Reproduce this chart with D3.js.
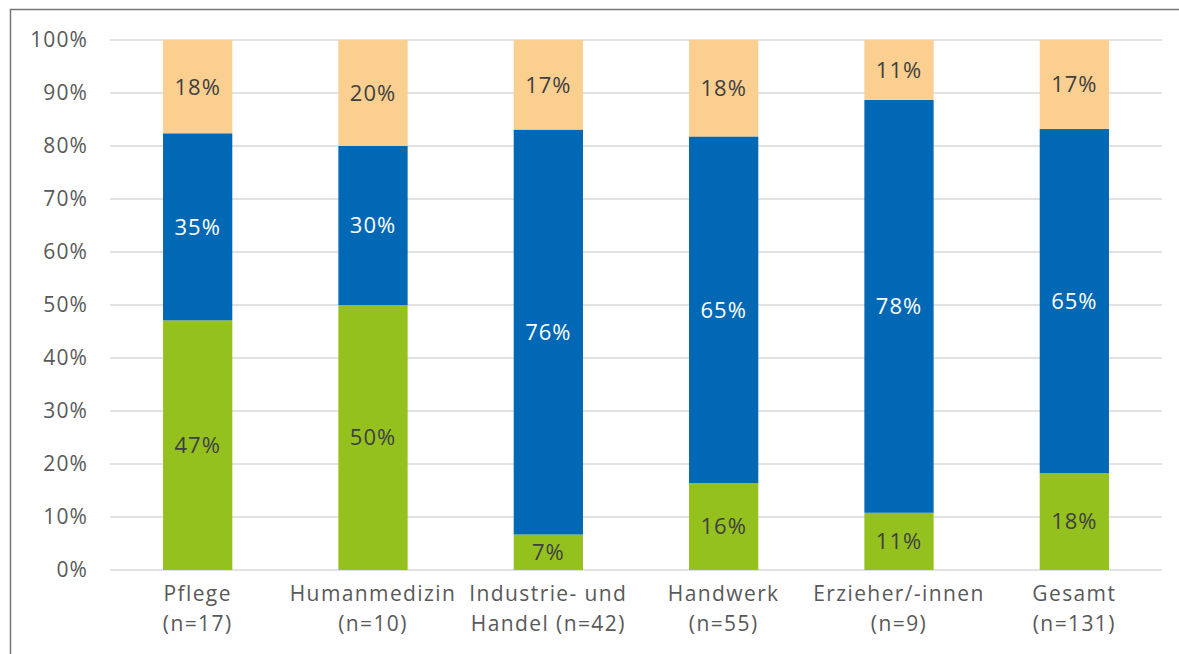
<!DOCTYPE html>
<html>
<head>
<meta charset="utf-8">
<script src="https://cdn.jsdelivr.net/npm/d3@7"></script>
<style>
  body { margin: 0; background: #fff; }
  svg text { font-family: "Open Sans", "Noto Sans", sans-serif; }
</style>
</head>
<body>
<div class="chart"></div>
<script>
// categories (two label lines each)
var categories = ['Pflege', 'Humanmedizin', 'Industrie- und Handel', 'Handwerk', 'Erzieher/-innen', 'Gesamt'];
var labelLine1 = ['Pflege', 'Humanmedizin', 'Industrie- und', 'Handwerk', 'Erzieher/-innen', 'Gesamt'];
var labelLine2 = ['(n=17)', '(n=10)', 'Handel (n=42)', '(n=55)', '(n=9)', '(n=131)'];

// series values in percent, bottom to top
var greenValues = [47.1, 50.0, 6.7, 16.4, 10.8, 18.3];
var blueValues = [35.3, 30.0, 76.4, 65.4, 77.9, 64.9];
var orangeValues = [17.6, 20.0, 16.9, 18.2, 11.3, 16.8];

var yTicks = [0, 10, 20, 30, 40, 50, 60, 70, 80, 90, 100];

var W = 1179, H = 654;
var margin = { top: 40, right: 17, bottom: 84, left: 110 };
var width = W - margin.left - margin.right;
var height = H - margin.top - margin.bottom;

var svg = d3.select('.chart')
    .append('svg')
    .attr('width', W)
    .attr('height', H);

// outer frame
svg.append('rect')
    .attr('x', 10.5).attr('y', 9.5)
    .attr('width', W + 20).attr('height', H + 20)
    .style('fill', 'none')
    .style('stroke', '#767676')
    .style('stroke-width', 1.5);

var g = svg.append('g')
    .attr('transform', `translate(${margin.left}, ${margin.top})`);

var series = [
    { key: 'green', values: greenValues, color: '#95c11f', text: '#3f3f3f' },
    { key: 'blue', values: blueValues, color: '#0068b4', text: '#ffffff' },
    { key: 'orange', values: orangeValues, color: '#fbcf90', text: '#3f3f3f' }
];

var table = categories.map(function (c, i) {
    return { cat: c, green: greenValues[i], blue: blueValues[i], orange: orangeValues[i] };
});
var stacked = d3.stack().keys(['green', 'blue', 'orange'])(table);

var xScale = d3.scaleBand()
    .domain(categories)
    .range([0, width])
    .paddingInner(0.605)
    .paddingOuter(0.3025);

var yScale = d3.scaleLinear()
    .domain([0, 100])
    .range([height, 0]);

// gridlines
g.append('g')
    .selectAll('line')
    .data(yTicks)
    .enter()
    .append('line')
    .attr('x1', 0).attr('x2', width)
    .attr('y1', d => yScale(d)).attr('y2', d => yScale(d))
    .style('stroke', '#d9d9d9')
    .style('stroke-width', 1.5);

// y axis labels
var yAxis = g.append('g')
    .call(d3.axisLeft(yScale).tickValues(yTicks).tickFormat(d => d + '%').tickSize(0).tickPadding(22));
yAxis.select('.domain').remove();
yAxis.selectAll('text')
    .style('font-size', '21px')
    .style('letter-spacing', '1.1px')
    .style('fill', '#595959')
    .style('font-family', '"Open Sans", sans-serif');

// bars
stacked.forEach(function (layer, li) {
    var s = series[li];
    var grp = g.append('g');
    grp.selectAll('rect')
        .data(layer)
        .enter()
        .append('rect')
        .attr('x', d => xScale(d.data.cat))
        .attr('width', xScale.bandwidth())
        .attr('y', d => yScale(d[1]))
        .attr('height', d => yScale(d[0]) - yScale(d[1]))
        .style('fill', s.color);
    grp.selectAll('text')
        .data(layer)
        .enter()
        .append('text')
        .attr('x', d => xScale(d.data.cat) + xScale.bandwidth() / 2)
        .attr('y', d => (yScale(d[0]) + yScale(d[1])) / 2)
        .attr('dy', '0.36em')
        .attr('text-anchor', 'middle')
        .style('font-size', '22px')
        .style('letter-spacing', '1px')
        .style('fill', s.text)
        .text(d => Math.round(d[1] - d[0]) + '%');
});

// category labels
var xl = g.append('g')
    .attr('transform', `translate(0, ${height})`);
xl.selectAll('text.l1')
    .data(categories)
    .enter()
    .append('text')
    .attr('class', 'l1')
    .attr('x', d => xScale(d) + xScale.bandwidth() / 2)
    .attr('y', 31)
    .attr('text-anchor', 'middle')
    .style('font-size', '21px')
    .style('letter-spacing', '1.4px')
    .style('fill', '#595959')
    .text((d, i) => labelLine1[i]);
xl.selectAll('text.l2')
    .data(categories)
    .enter()
    .append('text')
    .attr('class', 'l2')
    .attr('x', d => xScale(d) + xScale.bandwidth() / 2)
    .attr('y', 61)
    .attr('text-anchor', 'middle')
    .style('font-size', '21px')
    .style('letter-spacing', '1.4px')
    .style('fill', '#595959')
    .text((d, i) => labelLine2[i]);
</script>
</body>
</html>
